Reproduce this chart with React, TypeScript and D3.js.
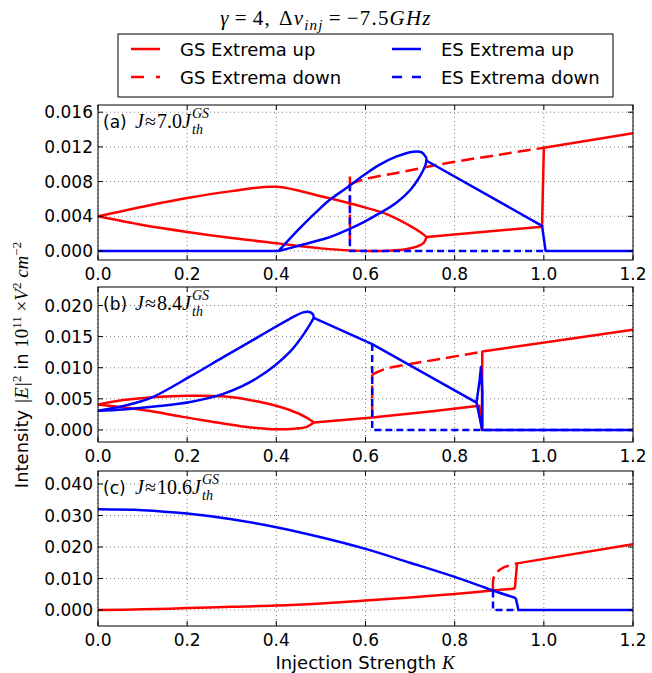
import React from "react";
import * as d3 from "d3";

type Pt = [number, number];

// Axis ticks
const kTicks = [0, 0.2, 0.4, 0.6, 0.8, 1.0, 1.2];
const ticksA = [0, 0.004, 0.008, 0.012, 0.016];
const ticksB = [0, 0.005, 0.01, 0.015, 0.02];
const ticksC = [0, 0.01, 0.02, 0.03, 0.04];

// Panel (a): J ≈ 7.0 J_th^GS
const aGsUpper: Pt[] = [
  [0, 0.004], [0.1, 0.0051], [0.2, 0.0061], [0.3, 0.0069], [0.4, 0.0074],
  [0.5, 0.0063], [0.6, 0.005], [0.65, 0.0042], [0.7, 0.0029], [0.725, 0.0021], [0.737, 0.0016],
];
const aGsLower: Pt[] = [
  [0, 0.004], [0.1, 0.003], [0.2, 0.0022], [0.3, 0.0015], [0.4, 0.0009], [0.5, 0.0003],
  [0.6, 0.0], [0.655, 0.00004], [0.69, 0.0002], [0.715, 0.0005], [0.73, 0.0009], [0.737, 0.0016],
];
const aGsTail: Pt[] = [[0.737, 0.0016], [0.996, 0.0028], [1.0, 0.0119], [1.2, 0.01357]];
const aGsDownDrop: Pt[] = [[0.565, 0.0086], [0.565, 0.0012]];
const aGsDown: Pt[] = [
  [0.565, 0.0077], [0.6, 0.0083], [0.67, 0.009], [0.729, 0.0096], [0.79, 0.0102], [0.9, 0.0111], [1.0, 0.0119],
];
const aEsFlat: Pt[] = [[0, 0], [0.405, 0]];
const aEsUpper: Pt[] = [
  [0.405, 0], [0.45, 0.0025], [0.5, 0.005], [0.52, 0.0059], [0.558, 0.0073], [0.595, 0.0087],
  [0.63, 0.0099], [0.67, 0.0109], [0.707, 0.01145], [0.725, 0.0114], [0.737, 0.0107],
];
const aEsLower: Pt[] = [
  [0.405, 0], [0.45, 0.0006], [0.5, 0.0013], [0.52, 0.0016], [0.558, 0.0024], [0.595, 0.0033],
  [0.63, 0.0043], [0.67, 0.0056], [0.7, 0.007], [0.722, 0.0086], [0.735, 0.01], [0.737, 0.0107],
];
const aEsTail: Pt[] = [[0.737, 0.0104], [0.996, 0.0029], [1.004, 0], [1.2, 0]];
const aEsDown: Pt[] = [[0.565, 0.0077], [0.565, 0], [1.0, 0]];

// Panel (b): J ≈ 8.4 J_th^GS
const bGsUpper: Pt[] = [
  [0, 0.0041], [0.057, 0.0048], [0.13, 0.0053], [0.2, 0.0055], [0.28, 0.0054], [0.356, 0.0046],
  [0.43, 0.0032], [0.47, 0.0019], [0.484, 0.0012],
];
const bGsLower: Pt[] = [
  [0, 0.0041], [0.06, 0.0036], [0.13, 0.0029], [0.19, 0.0021], [0.25, 0.0014], [0.32, 0.0006],
  [0.4, 0.0001], [0.44, 0.0002], [0.468, 0.0005], [0.484, 0.0012],
];
const bGsTail: Pt[] = [
  [0.484, 0.0012], [0.615, 0.002], [0.75, 0.003], [0.855, 0.0039], [0.861, 0.0], [0.862, 0.0126], [1.2, 0.0161],
];
const bGsDownDrop: Pt[] = [[0.615, 0.002], [0.615, 0.0089]];
const bGsDown: Pt[] = [[0.615, 0.0089], [0.64, 0.0097], [0.692, 0.0105], [0.767, 0.0114], [0.862, 0.0126]];
const bEsUpper: Pt[] = [
  [0, 0.0031], [0.06, 0.0039], [0.117, 0.0051], [0.207, 0.0086], [0.281, 0.0117], [0.356, 0.0148],
  [0.431, 0.0179], [0.46, 0.0189], [0.472, 0.019], [0.482, 0.0186], [0.484, 0.018],
];
const bEsLower: Pt[] = [
  [0, 0.0031], [0.057, 0.0033], [0.132, 0.0038], [0.207, 0.0045], [0.281, 0.0058], [0.356, 0.0083],
  [0.431, 0.0126], [0.468, 0.0161], [0.484, 0.018],
];
const bEsTail: Pt[] = [
  [0.484, 0.018], [0.615, 0.0138], [0.849, 0.0044], [0.856, 0.008], [0.859, 0.0101], [0.862, 0.006],
  [0.862, 0], [1.2, 0],
];
const bEsSpike: Pt[] = [[0.849, 0.0044], [0.862, 0]];
const bEsDown: Pt[] = [[0.615, 0.0138], [0.615, 0], [1.2, 0]];

// Panel (c): J ≈ 10.6 J_th^GS
const cGsUp: Pt[] = [
  [0, 0], [0.1, 0.0002], [0.2, 0.0006], [0.3, 0.001], [0.4, 0.0014], [0.5, 0.0021], [0.6, 0.003],
  [0.7, 0.004], [0.8, 0.0051], [0.886, 0.0062], [0.935, 0.0068],
];
const cGsJump: Pt[] = [[0.935, 0.0068], [0.94, 0.0148], [1.2, 0.0209]];
const cGsDown: Pt[] = [[0.886, 0.0065], [0.887, 0.01], [0.895, 0.012], [0.91, 0.0135], [0.94, 0.0148]];
const cEsUp: Pt[] = [
  [0, 0.032], [0.1, 0.0317], [0.2, 0.0306], [0.3, 0.0288], [0.4, 0.0263], [0.5, 0.0231], [0.6, 0.0194],
  [0.7, 0.015], [0.8, 0.0105], [0.886, 0.0062], [0.937, 0.0038],
];
const cEsDrop: Pt[] = [[0.937, 0.0038], [0.943, 0], [1.2, 0]];
const cEsDown: Pt[] = [[0.886, 0.0062], [0.886, 0], [0.943, 0]];

const RED = "#ff0000";
const BLUE = "#0000ff";
const RED_DASH = "13,6";
const BLUE_DASH = "7,4";
const SANS = "DejaVu Sans, sans-serif";
const SERIF = "Liberation Serif, DejaVu Serif, serif";

type Series = { pts: Pt[]; color: string; dash?: string; smooth?: boolean };

type Panel = {
  id: string;
  tag: string;
  jValue: string;
  top: number;
  bottom: number;
  domain: [number, number];
  ticks: number[];
  series: Series[];
};

const panels: Panel[] = [
  {
    id: "a", tag: "(a)", jValue: "7.0", top: 105, bottom: 260, domain: [-0.00104, 0.01683], ticks: ticksA,
    series: [
      { pts: aGsUpper, color: RED, smooth: true }, { pts: aGsLower, color: RED, smooth: true },
      { pts: aGsTail, color: RED },
      { pts: aGsDownDrop, color: RED, dash: RED_DASH }, { pts: aGsDown, color: RED, dash: RED_DASH, smooth: true },
      { pts: aEsFlat, color: BLUE },
      { pts: aEsUpper, color: BLUE, smooth: true }, { pts: aEsLower, color: BLUE, smooth: true },
      { pts: aEsTail, color: BLUE },
      { pts: aEsDown, color: BLUE, dash: BLUE_DASH },
    ],
  },
  {
    id: "b", tag: "(b)", jValue: "8.4", top: 287, bottom: 442, domain: [-0.00194, 0.02298], ticks: ticksB,
    series: [
      { pts: bGsUpper, color: RED, smooth: true }, { pts: bGsLower, color: RED, smooth: true },
      { pts: bGsTail, color: RED },
      { pts: bGsDownDrop, color: RED, dash: RED_DASH }, { pts: bGsDown, color: RED, dash: RED_DASH, smooth: true },
      { pts: bEsUpper, color: BLUE, smooth: true }, { pts: bEsLower, color: BLUE, smooth: true },
      { pts: bEsTail, color: BLUE }, { pts: bEsSpike, color: BLUE },
      { pts: bEsDown, color: BLUE, dash: BLUE_DASH },
    ],
  },
  {
    id: "c", tag: "(c)", jValue: "10.6", top: 471, bottom: 626, domain: [-0.00508, 0.04413], ticks: ticksC,
    series: [
      { pts: cGsUp, color: RED, smooth: true }, { pts: cGsJump, color: RED },
      { pts: cGsDown, color: RED, dash: RED_DASH, smooth: true },
      { pts: cEsUp, color: BLUE, smooth: true }, { pts: cEsDrop, color: BLUE },
      { pts: cEsDown, color: BLUE, dash: BLUE_DASH },
    ],
  },
];

const X0 = 98;
const X1 = 633;
const xScale = d3.scaleLinear().domain([0, 1.2]).range([X0, X1]);
const TICK = 5;

function PanelView({ p }: { p: Panel }) {
  const y = d3.scaleLinear().domain(p.domain).range([p.bottom, p.top]);
  const straight = d3.line<Pt>().x((d) => xScale(d[0])).y((d) => y(d[1]));
  const smooth = d3
    .line<Pt>()
    .x((d) => xScale(d[0]))
    .y((d) => y(d[1]))
    .curve(d3.curveCatmullRom.alpha(0.5));
  const clipId = `clip-${p.id}`;
  const mathX = X0 + 37;
  // width of "J≈d.dJ" in the math font, to place the stacked sub/superscript after it
  const scriptX = mathX + (p.jValue.length > 3 ? 67 : 57);
  return (
    <g>
      <defs>
        <clipPath id={clipId}>
          <rect x={X0} y={p.top} width={X1 - X0} height={p.bottom - p.top} />
        </clipPath>
      </defs>
      {/* grid */}
      {kTicks.map((k) => (
        <line key={`gx${k}`} x1={xScale(k)} x2={xScale(k)} y1={p.top} y2={p.bottom}
          stroke="#444" strokeWidth={0.7} strokeDasharray="1,3" />
      ))}
      {p.ticks.map((t) => (
        <line key={`gy${t}`} x1={X0} x2={X1} y1={y(t)} y2={y(t)}
          stroke="#444" strokeWidth={0.7} strokeDasharray="1,3" />
      ))}
      {/* data */}
      <g clipPath={`url(#${clipId})`}>
        {p.series.map((s, i) => (
          <path key={i} d={(s.smooth ? smooth(s.pts) : straight(s.pts)) || ""} fill="none" stroke={s.color}
            strokeWidth={2.5} strokeDasharray={s.dash} strokeLinejoin="round" />
        ))}
      </g>
      {/* frame */}
      <rect x={X0} y={p.top} width={X1 - X0} height={p.bottom - p.top} fill="none" stroke="#000" strokeWidth={1} />
      {/* ticks */}
      {kTicks.map((k) => (
        <g key={`tx${k}`}>
          <line x1={xScale(k)} x2={xScale(k)} y1={p.bottom} y2={p.bottom - TICK} stroke="#000" />
          <line x1={xScale(k)} x2={xScale(k)} y1={p.top} y2={p.top + TICK} stroke="#000" />
          <text x={xScale(k)} y={p.bottom + 20} textAnchor="middle" fontFamily={SANS} fontSize={17}>
            {k.toFixed(1)}
          </text>
        </g>
      ))}
      {p.ticks.map((t) => (
        <g key={`ty${t}`}>
          <line x1={X0} x2={X0 + TICK} y1={y(t)} y2={y(t)} stroke="#000" />
          <line x1={X1} x2={X1 - TICK} y1={y(t)} y2={y(t)} stroke="#000" />
          <text x={X0 - 5} y={y(t)} textAnchor="end" dominantBaseline="central" fontFamily={SANS} fontSize={17}>
            {t.toFixed(3)}
          </text>
        </g>
      ))}
      {/* panel tag */}
      <text x={X0 + 5} y={p.top + 23} fontFamily={SANS} fontSize={17}>{p.tag}</text>
      <text x={mathX} y={p.top + 23} fontFamily={SERIF} fontSize={20}>
        <tspan fontStyle="italic">J</tspan>
        <tspan dx={1}>{"≈"}</tspan>
        <tspan dx={1}>{p.jValue}</tspan>
        <tspan fontStyle="italic">J</tspan>
      </text>
      <text x={scriptX} y={p.top + 29} fontFamily={SERIF} fontSize={14} fontStyle="italic">th</text>
      <text x={scriptX} y={p.top + 13} fontFamily={SERIF} fontSize={14} fontStyle="italic">GS</text>
    </g>
  );
}

function Legend() {
  const rows = [
    { label: "GS Extrema up", color: RED, dash: undefined, col: 0, row: 0 },
    { label: "GS Extrema down", color: RED, dash: "13,12", col: 0, row: 1 },
    { label: "ES Extrema up", color: BLUE, dash: undefined, col: 1, row: 0 },
    { label: "ES Extrema down", color: BLUE, dash: "10,10", col: 1, row: 1 },
  ];
  const colX = [131, 392];
  const rowY = [49, 77];
  return (
    <g>
      <rect x={118} y={34} width={495} height={63} fill="#fff" stroke="#000" strokeWidth={1} />
      {rows.map((r) => (
        <g key={r.label}>
          <line x1={colX[r.col]} x2={colX[r.col] + 29} y1={rowY[r.row]} y2={rowY[r.row]}
            stroke={r.color} strokeWidth={2.5} strokeDasharray={r.dash} />
          <text x={colX[r.col] + 49} y={rowY[r.row]} dominantBaseline="central" fontFamily={SANS} fontSize={18}>
            {r.label}
          </text>
        </g>
      ))}
    </g>
  );
}

export default function App() {
  return (
    <svg width={652} height={673} style={{ display: "block", position: "absolute", left: 0, top: 0 }}>
      <rect width={652} height={673} fill="#fff" />
      <text x={326} y={25} textAnchor="middle" fontFamily={SERIF} fontSize={21} letterSpacing={1.2}>
        <tspan fontStyle="italic">γ</tspan>
        <tspan dx={5}>=</tspan>
        <tspan dx={5}>4,</tspan>
        <tspan dx={8}>Δ</tspan>
        <tspan fontStyle="italic">ν</tspan>
        <tspan fontStyle="italic" fontSize={15} dy={5}>inj</tspan>
        <tspan dx={5} dy={-5}>=</tspan>
        <tspan dx={5}>{"−7.5"}</tspan>
        <tspan fontStyle="italic">GHz</tspan>
      </text>
      <Legend />
      {panels.map((p) => (
        <PanelView key={p.id} p={p} />
      ))}
      <text transform="translate(28,365) rotate(-90)" textAnchor="middle" fontFamily={SANS} fontSize={18}>
        <tspan>Intensity </tspan>
        <tspan fontFamily={SERIF} fontStyle="italic" fontSize={19}>|E|</tspan>
        <tspan fontFamily={SERIF} fontSize={13} dy={-7}>2</tspan>
        <tspan dy={7}> in </tspan>
        <tspan fontFamily={SERIF} fontSize={19}>10</tspan>
        <tspan fontFamily={SERIF} fontSize={13} dy={-7}>11</tspan>
        <tspan fontFamily={SERIF} fontSize={19} dy={7}>{" ×"}</tspan>
        <tspan fontFamily={SERIF} fontStyle="italic" fontSize={19}>V</tspan>
        <tspan fontFamily={SERIF} fontSize={13} dy={-7}>2</tspan>
        <tspan fontFamily={SERIF} fontStyle="italic" fontSize={19} dy={7}>{" cm"}</tspan>
        <tspan fontFamily={SERIF} fontSize={13} dy={-7}>{"−2"}</tspan>
      </text>
      <text x={365} y={669} textAnchor="middle" fontFamily={SANS} fontSize={18}>
        <tspan>Injection Strength </tspan>
        <tspan fontFamily={SERIF} fontStyle="italic" fontSize={19}>K</tspan>
      </text>
    </svg>
  );
}
